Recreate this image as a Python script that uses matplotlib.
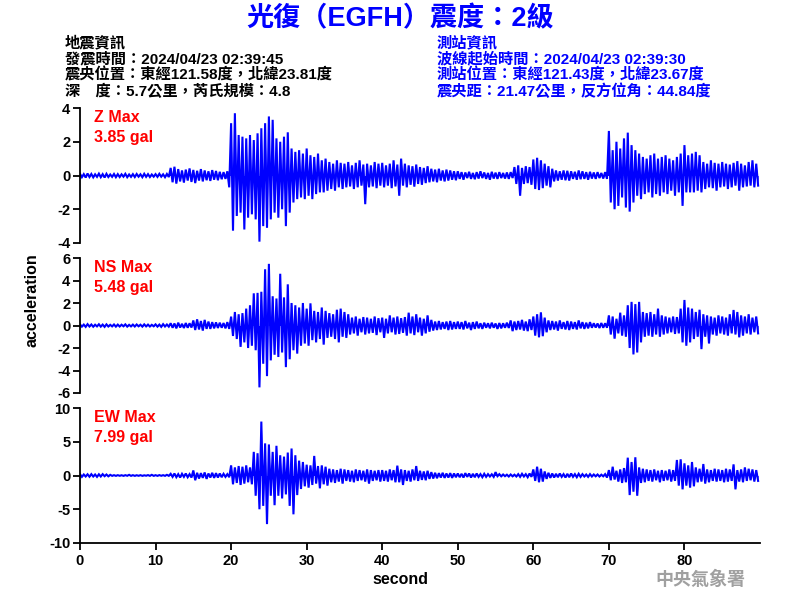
import numpy as np
import matplotlib
matplotlib.use("Agg")
import matplotlib.pyplot as plt

# ---------------- data ----------------
title = "光復（EGFH）震度：2級"
quake_info = ["地震資訊",
              "發震時間：2024/04/23 02:39:45",
              "震央位置：東經121.58度，北緯23.81度",
              "深　度：5.7公里，芮氏規模：4.8"]
station_info = ["測站資訊",
                "波線起始時間：2024/04/23 02:39:30",
                "測站位置：東經121.43度，北緯23.67度",
                "震央距：21.47公里，反方位角：44.84度"]
components = ["Z", "NS", "EW"]
max_labels = ["3.85 gal", "5.48 gal", "7.99 gal"]
y_limits = [(-4, 4), (-6, 6), (-10, 10)]
y_ticks = [[-4, -2, 0, 2, 4], [-6, -4, -2, 0, 2, 4, 6], [-10, -5, 0, 5, 10]]
x_ticks = [0, 10, 20, 30, 40, 50, 60, 70, 80]
dt = 0.5  # envelope sample spacing, seconds

# Envelope (upper / lower) of each trace, every 0.5 s from 0 to 89.5 s
z_upper = [
    0.10, 0.08, 0.12, 0.09, 0.07, 0.11, 0.08, 0.10, 0.06, 0.09, 0.08, 0.07, 0.10, 0.06, 0.08, 0.09, 0.07, 0.10, 0.08, 0.06,
    0.08, 0.10, 0.07, 0.09, 0.45, 0.52, 0.38, 0.30, 0.35, 0.42, 0.33, 0.28, 0.38, 0.30, 0.25, 0.32, 0.27, 0.22, 0.20, 0.25,
    3.10, 3.69, 2.40, 2.30, 2.20, 2.40, 2.10, 2.50, 2.80, 3.10, 3.50, 3.30, 2.20, 2.00, 2.30, 2.56, 1.60, 1.40, 1.50, 1.30,
    1.60, 1.20, 1.10, 1.30, 0.90, 1.00, 0.80, 0.70, 0.90, 0.75, 0.70, 0.80, 0.60, 0.75, 0.90, 0.65, 0.70, 0.60, 0.80, 0.70,
    0.75, 0.60, 0.70, 0.90, 0.65, 1.00, 0.70, 0.60, 0.55, 0.65, 0.50, 0.45, 0.55, 0.40, 0.35, 0.40, 0.30, 0.35, 0.30, 0.25,
    0.25, 0.20, 0.18, 0.22, 0.15, 0.20, 0.25, 0.18, 0.15, 0.22, 0.17, 0.20, 0.15, 0.18, 0.20, 0.50, 0.60, 0.45, 0.55, 0.50,
    0.95, 1.05, 0.90, 0.70, 0.55, 0.40, 0.30, 0.25, 0.30, 0.28, 0.25, 0.22, 0.30, 0.25, 0.20, 0.22, 0.18, 0.20, 0.15, 0.20,
    2.64, 1.50, 2.00, 1.60, 2.20, 2.54, 1.80, 1.50, 1.30, 1.10, 1.00, 1.20, 1.30, 1.00, 1.10, 1.20, 1.00, 0.90, 1.10, 1.30,
    1.80, 1.20, 1.30, 1.40, 1.20, 0.80, 0.70, 0.90, 0.75, 0.70, 0.80, 0.70, 0.65, 0.75, 0.85, 0.70, 0.60, 0.80, 0.90, 0.70,
]
z_lower = [
    -0.10, -0.12, -0.09, -0.11, -0.08, -0.10, -0.12, -0.09, -0.08, -0.10, -0.09, -0.07, -0.10, -0.08, -0.09, -0.07, -0.10, -0.08, -0.09, -0.07,
    -0.08, -0.07, -0.10, -0.09, -0.40, -0.48, -0.35, -0.42, -0.30, -0.38, -0.45, -0.30, -0.35, -0.28, -0.32, -0.25, -0.28, -0.22, -0.20, -0.70,
    -3.27, -2.40, -2.20, -3.20, -2.50, -2.30, -2.60, -3.92, -3.00, -3.10, -2.60, -2.20, -2.50, -2.00, -3.00, -2.20, -1.60, -1.40, -1.30, -1.40,
    -1.20, -1.40, -1.10, -1.00, -1.00, -0.90, -0.80, -0.90, -0.70, -0.80, -0.70, -0.65, -0.80, -0.70, -0.60, -1.70, -0.70, -0.65, -0.75, -0.60,
    -0.70, -0.60, -0.75, -0.65, -1.20, -0.60, -0.70, -0.55, -0.66, -0.50, -0.55, -0.45, -0.40, -0.35, -0.40, -0.30, -0.35, -0.30, -0.25, -0.28,
    -0.20, -0.25, -0.15, -0.20, -0.22, -0.18, -0.15, -0.20, -0.25, -0.18, -0.20, -0.15, -0.18, -0.20, -0.15, -0.50, -1.20, -0.50, -0.45, -0.55,
    -0.80, -0.86, -0.75, -0.60, -0.70, -0.35, -0.30, -0.25, -0.28, -0.30, -0.20, -0.25, -0.22, -0.20, -0.25, -0.18, -0.20, -0.15, -0.18, -0.20,
    -1.60, -2.00, -1.80, -1.30, -1.90, -2.14, -1.60, -1.20, -1.40, -1.10, -1.00, -1.30, -1.10, -1.20, -1.00, -1.10, -0.90, -1.20, -1.00, -1.80,
    -1.00, -1.00, -1.00, -0.90, -1.00, -0.80, -0.70, -0.75, -0.90, -0.70, -0.65, -0.80, -0.70, -0.60, -0.90, -0.70, -0.65, -0.60, -0.70, -0.60,
]
ns_upper = [
    0.10, 0.08, 0.12, 0.09, 0.07, 0.11, 0.08, 0.10, 0.06, 0.09, 0.08, 0.07, 0.10, 0.06, 0.08, 0.09, 0.07, 0.10, 0.08, 0.06,
    0.10, 0.08, 0.12, 0.09, 0.20, 0.18, 0.25, 0.15, 0.22, 0.20, 0.45, 0.55, 0.40, 0.50, 0.35, 0.30, 0.28, 0.25, 0.22, 0.30,
    0.79, 1.20, 1.00, 1.10, 1.50, 1.80, 2.86, 2.90, 3.00, 5.00, 5.48, 2.60, 2.40, 4.60, 2.50, 3.66, 2.00, 1.80, 1.60, 2.00,
    1.50, 1.97, 1.30, 1.20, 1.60, 1.30, 1.10, 1.00, 1.40, 1.50, 1.20, 1.00, 0.70, 0.80, 0.60, 0.75, 0.70, 0.60, 0.80, 0.65,
    0.70, 0.60, 0.90, 0.70, 0.80, 0.65, 0.75, 1.14, 0.80, 1.00, 0.70, 0.60, 0.90, 0.50, 0.35, 0.40, 0.30, 0.35, 0.40, 0.30,
    0.35, 0.30, 0.40, 0.25, 0.30, 0.35, 0.20, 0.25, 0.20, 0.25, 0.18, 0.22, 0.20, 0.25, 0.45, 0.35, 0.40, 0.50, 0.35, 0.55,
    0.80, 1.00, 1.17, 0.70, 0.45, 0.40, 0.35, 0.45, 0.30, 0.40, 0.35, 0.30, 0.45, 0.30, 0.25, 0.30, 0.20, 0.18, 0.22, 0.20,
    0.90, 0.80, 0.60, 1.14, 0.90, 1.80, 2.10, 1.90, 2.10, 1.20, 1.10, 1.20, 1.00, 1.50, 0.90, 0.80, 0.70, 0.80, 0.75, 1.50,
    2.27, 1.60, 1.50, 1.20, 1.40, 1.00, 0.90, 0.80, 0.70, 0.90, 0.80, 0.70, 1.00, 1.38, 1.20, 0.90, 0.80, 1.00, 0.70, 0.80,
]
ns_lower = [
    -0.10, -0.12, -0.09, -0.11, -0.08, -0.10, -0.12, -0.09, -0.08, -0.10, -0.09, -0.07, -0.10, -0.08, -0.09, -0.07, -0.10, -0.08, -0.09, -0.07,
    -0.10, -0.12, -0.09, -0.10, -0.20, -0.25, -0.18, -0.22, -0.20, -0.18, -0.40, -0.35, -0.45, -0.30, -0.30, -0.25, -0.22, -0.20, -0.25, -0.30,
    -0.93, -1.20, -1.90, -1.50, -2.00, -1.80, -2.20, -5.50, -3.40, -4.50, -3.10, -2.60, -2.80, -2.40, -3.70, -3.00, -2.20, -2.50, -1.80, -1.60,
    -1.80, -1.30, -1.50, -1.20, -1.70, -1.10, -1.00, -1.20, -1.50, -1.00, -1.10, -0.80, -0.70, -0.90, -0.60, -0.80, -0.70, -0.65, -0.85, -0.60,
    -1.10, -0.70, -0.60, -0.80, -0.75, -0.65, -0.90, -0.70, -0.85, -0.60, -0.90, -0.70, -0.55, -0.45, -0.40, -0.35, -0.30, -0.40, -0.35, -0.30,
    -0.30, -0.35, -0.25, -0.40, -0.30, -0.25, -0.30, -0.20, -0.25, -0.20, -0.30, -0.25, -0.20, -0.22, -0.50, -0.40, -0.35, -0.45, -0.50, -0.40,
    -0.90, -1.05, -0.95, -0.60, -0.40, -0.35, -0.45, -0.30, -0.35, -0.40, -0.30, -0.35, -0.25, -0.30, -0.25, -0.20, -0.18, -0.22, -0.20, -0.20,
    -0.80, -1.17, -0.70, -0.90, -1.00, -2.00, -2.57, -2.40, -1.50, -1.00, -0.90, -1.00, -0.80, -1.00, -0.80, -0.70, -0.60, -0.75, -0.70, -1.50,
    -1.80, -1.50, -1.20, -1.00, -2.10, -1.00, -1.60, -0.80, -0.90, -0.70, -0.80, -0.90, -0.70, -0.80, -1.05, -0.90, -0.70, -0.80, -0.60, -0.70,
]
ew_upper = [
    0.20, 0.15, 0.18, 0.20, 0.15, 0.18, 0.20, 0.15, 0.10, 0.05, 0.05, 0.04, 0.05, 0.10, 0.05, 0.04, 0.05, 0.03, 0.06, 0.10,
    0.05, 0.06, 0.05, 0.10, 0.25, 0.30, 0.20, 0.25, 0.30, 0.20, 0.75, 0.40, 0.35, 0.45, 0.30, 0.40, 0.35, 0.30, 0.25, 0.20,
    1.50, 1.20, 1.40, 1.30, 1.50, 1.20, 3.50, 3.30, 7.99, 4.76, 4.60, 3.50, 4.40, 3.00, 2.80, 3.40, 4.00, 3.00, 2.20, 2.00,
    1.60, 1.50, 2.90, 1.40, 1.50, 1.30, 1.00, 0.90, 0.80, 1.00, 0.90, 0.80, 0.70, 0.90, 0.80, 0.70, 0.90, 0.80, 0.70, 0.80,
    0.80, 0.70, 0.90, 0.80, 1.46, 0.90, 0.80, 0.70, 0.90, 1.40, 0.70, 0.60, 0.70, 0.50, 0.40, 0.35, 0.40, 0.30, 0.35, 0.30,
    0.30, 0.25, 0.35, 0.30, 0.25, 0.30, 0.20, 0.25, 0.20, 0.18, 0.50, 0.20, 0.15, 0.12, 0.15, 0.12, 0.20, 0.25, 0.20, 0.30,
    0.90, 1.30, 1.00, 0.60, 0.40, 0.30, 0.25, 0.30, 0.20, 0.25, 0.30, 0.20, 0.25, 0.20, 0.15, 0.20, 0.15, 0.15, 0.12, 0.20,
    0.80, 1.30, 0.70, 0.90, 1.10, 2.64, 2.00, 2.70, 1.20, 1.00, 0.90, 0.80, 0.90, 0.70, 0.80, 0.70, 0.90, 0.80, 2.30, 2.40,
    1.80, 1.50, 2.00, 1.20, 1.00, 1.70, 0.90, 0.80, 1.00, 0.90, 0.80, 1.00, 0.90, 1.65, 0.80, 0.90, 1.20, 1.00, 0.90, 0.80,
]
ew_lower = [
    -0.20, -0.15, -0.18, -0.15, -0.20, -0.15, -0.10, -0.12, -0.05, -0.05, -0.04, -0.05, -0.04, -0.05, -0.05, -0.04, -0.05, -0.03, -0.05, -0.05,
    -0.05, -0.04, -0.05, -0.05, -0.20, -0.25, -0.30, -0.20, -0.25, -0.30, -0.70, -0.45, -0.35, -0.50, -0.30, -0.35, -0.30, -0.25, -0.20, -0.25,
    -1.30, -1.10, -1.40, -1.20, -1.00, -1.30, -3.00, -5.00, -4.50, -7.20, -3.00, -4.40, -3.00, -3.40, -2.80, -4.50, -5.75, -2.90, -2.00, -1.60,
    -1.80, -1.40, -1.20, -1.90, -1.30, -1.50, -1.00, -1.10, -0.90, -1.20, -0.80, -0.90, -1.00, -0.80, -0.70, -0.90, -1.20, -0.80, -0.70, -0.90,
    -0.80, -0.90, -0.70, -1.00, -1.00, -1.40, -0.80, -0.90, -0.70, -0.80, -0.65, -0.70, -0.50, -0.45, -0.40, -0.30, -0.35, -0.30, -0.35, -0.25,
    -0.25, -0.30, -0.20, -0.30, -0.25, -0.20, -0.25, -0.20, -0.15, -0.20, -0.10, -0.12, -0.10, -0.15, -0.12, -0.15, -0.20, -0.15, -0.25, -0.20,
    -0.80, -1.00, -0.90, -0.50, -0.35, -0.30, -0.25, -0.20, -0.30, -0.25, -0.20, -0.25, -0.20, -0.15, -0.20, -0.15, -0.12, -0.15, -0.12, -0.30,
    -0.70, -0.60, -0.90, -1.10, -1.00, -2.90, -2.40, -3.00, -1.10, -1.00, -0.80, -0.90, -0.70, -1.00, -0.80, -0.70, -0.90, -0.80, -1.50, -2.05,
    -1.50, -1.80, -1.60, -1.00, -0.90, -1.20, -1.00, -0.80, -0.90, -0.80, -1.00, -0.90, -0.80, -2.05, -0.90, -1.00, -0.80, -0.70, -0.90, -0.80,
]
uppers = [z_upper, ns_upper, ew_upper]
lowers = [z_lower, ns_lower, ew_lower]

# ---------------- style ----------------
LATIN_CJK = ["Liberation Sans", "Noto Sans CJK TC", "DejaVu Sans"]
plt.rcParams["font.family"] = LATIN_CJK
plt.rcParams["font.weight"] = "bold"
plt.rcParams["axes.unicode_minus"] = False

fig = plt.figure(figsize=(8, 6), dpi=100)
W, H = 800, 600
BLUE = "#0000FF"

def ax_rect(left, top, right, bottom):
    return [left / W, 1 - bottom / H, (right - left) / W, (bottom - top) / H]

panel_tops = [108, 258, 408]
panel_h = 135
axes = []
for k in range(3):
    ax = fig.add_axes(ax_rect(80, panel_tops[k], 760, panel_tops[k] + panel_h))
    axes.append(ax)
    up = np.asarray(uppers[k])
    lo = np.asarray(lowers[k])
    n = len(up)
    t = np.arange(n) * dt
    xs = np.empty(2 * n)
    ys = np.empty(2 * n)
    xs[0::2] = t
    xs[1::2] = t + dt / 2
    ys[0::2] = up
    ys[1::2] = lo
    ax.fill_between(xs, ys, 0, color=BLUE, lw=0)
    ax.plot(xs, ys, color=BLUE, lw=1.5, solid_joinstyle="miter")
    ax.set_xlim(0, 90)
    ax.set_ylim(*y_limits[k])
    ax.set_yticks(y_ticks[k])
    for s in ["top", "right"]:
        ax.spines[s].set_visible(False)
    ax.spines["left"].set_linewidth(1.3)
    ax.tick_params(axis="y", direction="out", length=5, width=1.3, labelsize=10.5, pad=2)
    for lab in ax.get_yticklabels():
        lab.set_fontweight("bold")
    if k < 2:
        ax.spines["bottom"].set_visible(False)
        ax.set_xticks([])
    else:
        ax.spines["bottom"].set_linewidth(1.3)
        ax.set_xticks(x_ticks)
        ax.tick_params(axis="x", direction="out", length=5, width=1.3, labelsize=10.5, pad=3)
        for lab in ax.get_xticklabels():
            lab.set_fontweight("bold")
    ax.text(0.021, 0.926, f"{components[k]} Max", transform=ax.transAxes,
            color="#FF0000", fontsize=11.5, fontweight="bold", va="center", ha="left")
    ax.text(0.021, 0.778, max_labels[k], transform=ax.transAxes,
            color="#FF0000", fontsize=11.5, fontweight="bold", va="center", ha="left")

# title & header
fig.text(400 / W, 1 - 19 / H, title, color=BLUE, fontsize=19.5, fontweight="bold",
         ha="center", va="center")
line_y = [43, 59, 75, 91]
for i, s in enumerate(quake_info):
    fig.text(65 / W, 1 - line_y[i] / H, s, color="black", fontsize=11, fontweight="bold",
             ha="left", va="center")
for i, s in enumerate(station_info):
    fig.text(437 / W, 1 - line_y[i] / H, s, color=BLUE, fontsize=11, fontweight="bold",
             ha="left", va="center")

fig.text(32 / W, 1 - 300 / H, "acceleration", rotation=90, fontsize=11.5, fontweight="bold",
         ha="center", va="center")
fig.text(400 / W, 1 - 580 / H, "second", fontsize=11.5, fontweight="bold",
         ha="center", va="center")
fig.text(700 / W, 1 - 580 / H, "中央氣象署", fontsize=13, fontweight="bold", color="#A0A0A0",
         ha="center", va="center")

fig.savefig("out.png", dpi=100)
